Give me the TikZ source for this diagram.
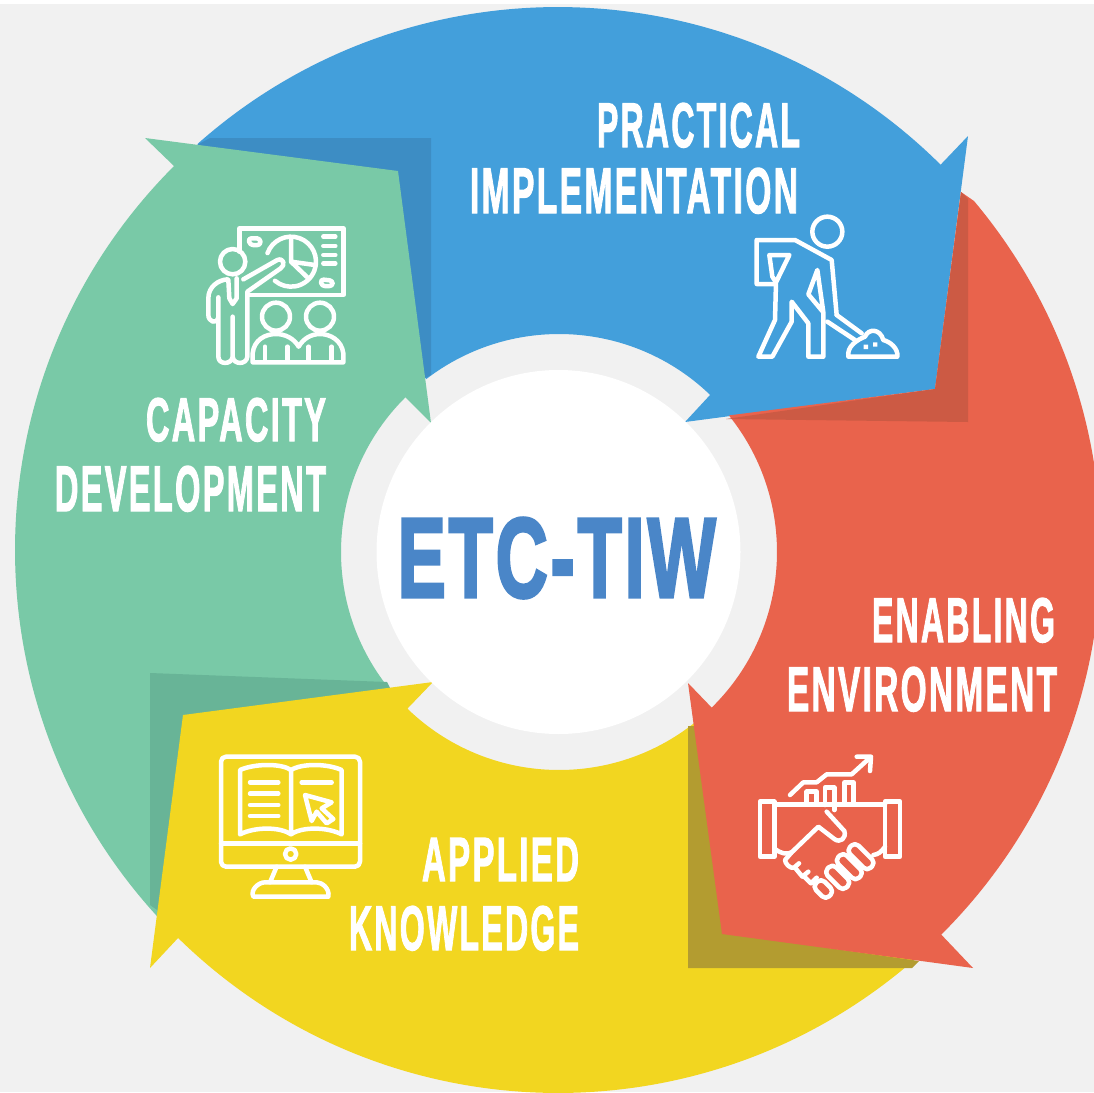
\documentclass[tikz,border=0pt]{standalone}
\usepackage{fontspec}
\usepackage{graphicx}
\setmainfont[BoldFeatures={FakeBold=2.2,LetterSpace=7}]{Liberation Sans}
\newfontfamily\titlefont[BoldFeatures={FakeBold=3,LetterSpace=4}]{Liberation Sans}
\definecolor{cbg}{HTML}{F1F1F1}
\definecolor{cblue}{HTML}{439FDB}
\definecolor{cblueD}{HTML}{3D8DC4}
\definecolor{cred}{HTML}{E9634C}
\definecolor{credD}{HTML}{CC5A44}
\definecolor{cyel}{HTML}{F2D620}
\definecolor{cyelD}{HTML}{B39C30}
\definecolor{cgrn}{HTML}{79C9A7}
\definecolor{cgrnD}{HTML}{68B497}
\definecolor{ctitle}{HTML}{4A86C8}
\tikzset{
  iconline/.style={draw=white,line width=4.5pt,line join=round,line cap=round},
  labelnode/.style={inner sep=0pt,outer sep=0pt,anchor=base east,text=white,font=\bfseries},
}
\newcommand{\fitcap}[3]{\resizebox{#1pt}{#2pt}{#3}}
\begin{document}
\begin{tikzpicture}[x=1pt,y=1pt,yscale=-1]
\useasboundingbox (0,0) rectangle (1094,1092);
\clip (0,0) rectangle (1094,1092);
\fill[white] (0,0) rectangle (1094,1092);
\fill[cbg] (0,4) rectangle (1094,1092);
% blue
\fill[cblue] ([shift={(558,550)}]228.4:543) arc[start angle=228.4,end angle=314.8,radius=543]
  -- (968,136) -- (935,389) -- (685,422) -- (710,395)
  -- ([shift={(559,552)}]314:218) arc[start angle=314,end angle=232.5,radius=218] -- cycle;
\fill[cblueD] (197,145) -- (210,138) -- (431,138) -- (431,375) -- (425,378) -- (410,300) -- cycle;
% green
\fill[cgrn] ([shift={(558,550)}]136:543) arc[start angle=136,end angle=225,radius=543]
  -- (145,138) -- (398,171) -- (431,423) -- (405,397)
  -- ([shift={(559,552)}]225.3:218) arc[start angle=225.3,end angle=140,radius=218] -- cycle;
\fill[cgrnD] (150,673) -- (387,682) -- (391,690) -- (183,720) -- (160,912) -- (150,905) -- cycle;
% yellow
\fill[cyel] ([shift={(558,550)}]48.6:543) arc[start angle=48.6,end angle=134.4,radius=543]
  -- (150,968) -- (183,715) -- (433,682) -- (408,708)
  -- ([shift={(559,552)}]134:218) arc[start angle=134,end angle=50,radius=218] -- cycle;
\fill[cyelD] (688,726) -- (700,726) -- (730,934) -- (919,961) -- (912,968) -- (688,968) -- cycle;
% red
\fill[cred] ([shift={(558,550)}]320:543) arc[start angle=320,end angle=405.1,radius=543]
  -- (973,968) -- (722,934) -- (688,683) -- (714,710)
  -- ([shift={(559,552)}]45.5:218) arc[start angle=45.5,end angle=-38.8,radius=218]
  -- (935,389) -- (961,192) -- cycle;
\fill[credD] (961,192) -- (968,199) -- (968,422) -- (726,419) -- (935,389) -- cycle;
% centre
\fill[white] (558.5,552) circle[radius=182];
\node[inner sep=0pt,anchor=base east,text=ctitle,font=\titlefont\bfseries] (title) at (716,597) {\fitcap{318}{79}{ETC-TIW}};
% labels
\node[labelnode] (t1) at (800,147) {\fitcap{203}{44}{PRACTICAL}};
\node[labelnode] (t2) at (798,213) {\fitcap{328}{45}{IMPLEMENTATION}};
\node[labelnode] (t3) at (326,441) {\fitcap{180}{43}{CAPACITY}};
\node[labelnode] (t4) at (326,511) {\fitcap{271}{45}{DEVELOPMENT}};
\node[labelnode] (t5) at (1055,642) {\fitcap{183}{44}{ENABLING}};
\node[labelnode] (t6) at (1057,711) {\fitcap{270}{44}{ENVIRONMENT}};
\node[labelnode] (t7) at (579,881) {\fitcap{157}{43}{APPLIED}};
\node[labelnode] (t8) at (579,950) {\fitcap{230}{44}{KNOWLEDGE}};
% icon capacity
\begin{scope}[shift={(190,210)},scale=1/3]
\draw[iconline] (148,125)--(148,55)--(460,55)--(460,255)--(178,255);
\draw[iconline] ([shift={(303,155)}]200:75) arc[start angle=200,end angle=490,radius=75];
\draw[iconline] (303,85)--(303,155)--(355,205) (303,155)--(375,165);
\draw[iconline] (128,155) circle[radius=38];
\draw[iconline] (160,208)--(262,150) .. controls (280,142) and (288,165) .. (272,175)--(172,245)--(172,440)
  .. controls (170,465) and (130,465) .. (128,440)--(128,320)--(128,440)
  .. controls (125,465) and (85,465) .. (85,440)--(85,262)
  (85,262)--(85,322) .. controls (80,345) and (55,335) .. (55,315)--(55,265)
  .. controls (55,230) and (85,210) .. (112,208);
\draw[iconline] (115,210)--(118,265)--(128,282)--(140,265)--(140,205);
\draw[iconline,rounded corners=3pt] (175,85)--(210,85)--(212,105)--(180,105)--cycle;
\draw[iconline,rounded corners=3pt] (392,208)--(428,212)--(428,228)--(395,228)--cycle;
\draw[iconline] (400,80)--(436,80) (400,108)--(436,108) (400,135)--(436,135) (400,160)--(436,160);
\draw[iconline] (258,320) circle[radius=42] (390,320) circle[radius=42];
\draw[iconline] (188,457)--(460,457)--(460,430) .. controls (455,390) and (420,372) .. (390,372)
  .. controls (365,372) and (340,385) .. (326,410) .. controls (312,385) and (285,372) .. (258,372)
  .. controls (225,372) and (192,390) .. (188,430)--cycle;
\draw[iconline] (225,410)--(225,455) (292,410)--(292,455) (356,410)--(356,455) (425,410)--(425,455);
\end{scope}
% icon worker
\begin{scope}[shift={(740,205)},scale=1/3]
\draw[iconline] (262,80) circle[radius=45];
\draw[iconline] (105,237)--(50,237)--(50,105)--(165,105)--(275,165)--(290,330);
\draw[iconline] (108,232)--(148,150)--(88,150)--(97,215)--(108,232)--(105,345)--(55,455)--(97,455)--(155,350)--(155,290)--(205,355)--(205,455)--(250,455)--(250,322)--(205,268)--(232,195)--(250,322);
\draw[iconline] (262,350)--(345,405) (290,330)--(365,385);
\draw[iconline] (325,455)--(472,455) .. controls (475,430) and (450,410) .. (430,405) .. controls (420,370) and (385,370) .. (375,395) .. controls (350,405) and (320,425) .. (325,455) -- cycle;
\fill[white] (371,419) rectangle (384,432) (399,412) rectangle (412,425);
\end{scope}
% icon handshake
\begin{scope}[shift={(745,745)},scale=1/3]
\draw[iconline] (135,150)--(175,112)--(215,112)--(245,88)--(320,88)--(375,38);
\draw[iconline] (335,35)--(378,35)--(375,78);
\draw[iconline] (185,175)--(185,140)--(215,140)--(215,175);
\draw[iconline] (240,180)--(240,128)--(268,128)--(268,195);
\draw[iconline] (298,175)--(298,112)--(325,112)--(325,175);
\draw[iconline] (45,170) rectangle (88,335) (420,170) rectangle (465,335);
\draw[iconline] (88,178)--(420,178);
\draw[iconline] (88,310) .. controls (105,325) and (125,330) .. (140,322);
\draw[iconline] (420,305) .. controls (410,320) and (400,328) .. (385,330);
\draw[iconline] (245,200)--(298,258) .. controls (305,280) and (285,295) .. (268,282)--(220,245)--(140,322)--(120,345) .. controls (120,355) and (135,372) .. (147,368)--(162,355);
\draw[iconline] (150,368)--(172,395)--(190,380);
\draw[iconline] (178,395)--(198,415)--(215,398);
\foreach \cx/\cy/\hl in {348/335/44,313/365/44,278/397/40,235/432/28}{
  \draw[iconline,rounded corners=5pt,rotate around={45:(\cx,\cy)}] (\cx-\hl,\cy-18) rectangle (\cx+\hl,\cy+18);
}
\end{scope}
% icon monitor
\begin{scope}[shift={(205,745)},scale=1/3]
\draw[iconline,rounded corners=5pt] (48,35) rectangle (465,365);
\draw[iconline] (48,295)--(465,295);
\draw[iconline] (257,327) circle[radius=17];
\draw[iconline] (215,365)--(195,412) (300,365)--(320,412);
\draw[iconline] (145,455)--(370,455) .. controls (375,430) and (350,412) .. (335,412)--(180,412) .. controls (160,412) and (135,435) .. (145,455) -- cycle;
\draw[iconline] (258,75) .. controls (230,55) and (150,55) .. (105,75)--(105,268) .. controls (150,245) and (225,245) .. (258,268) .. controls (290,245) and (365,245) .. (410,268)--(410,75) .. controls (365,55) and (290,55) .. (258,75)--(258,268);
\draw[iconline] (135,112)--(220,112) (135,146)--(220,146) (135,180)--(220,180) (135,213)--(220,213) (290,112)--(380,112);
\draw[iconline] (300,150)--(380,172)--(350,190)--(385,222)--(365,235)--(335,200)--(320,228)--cycle;
\end{scope}
\end{tikzpicture}
\end{document}
